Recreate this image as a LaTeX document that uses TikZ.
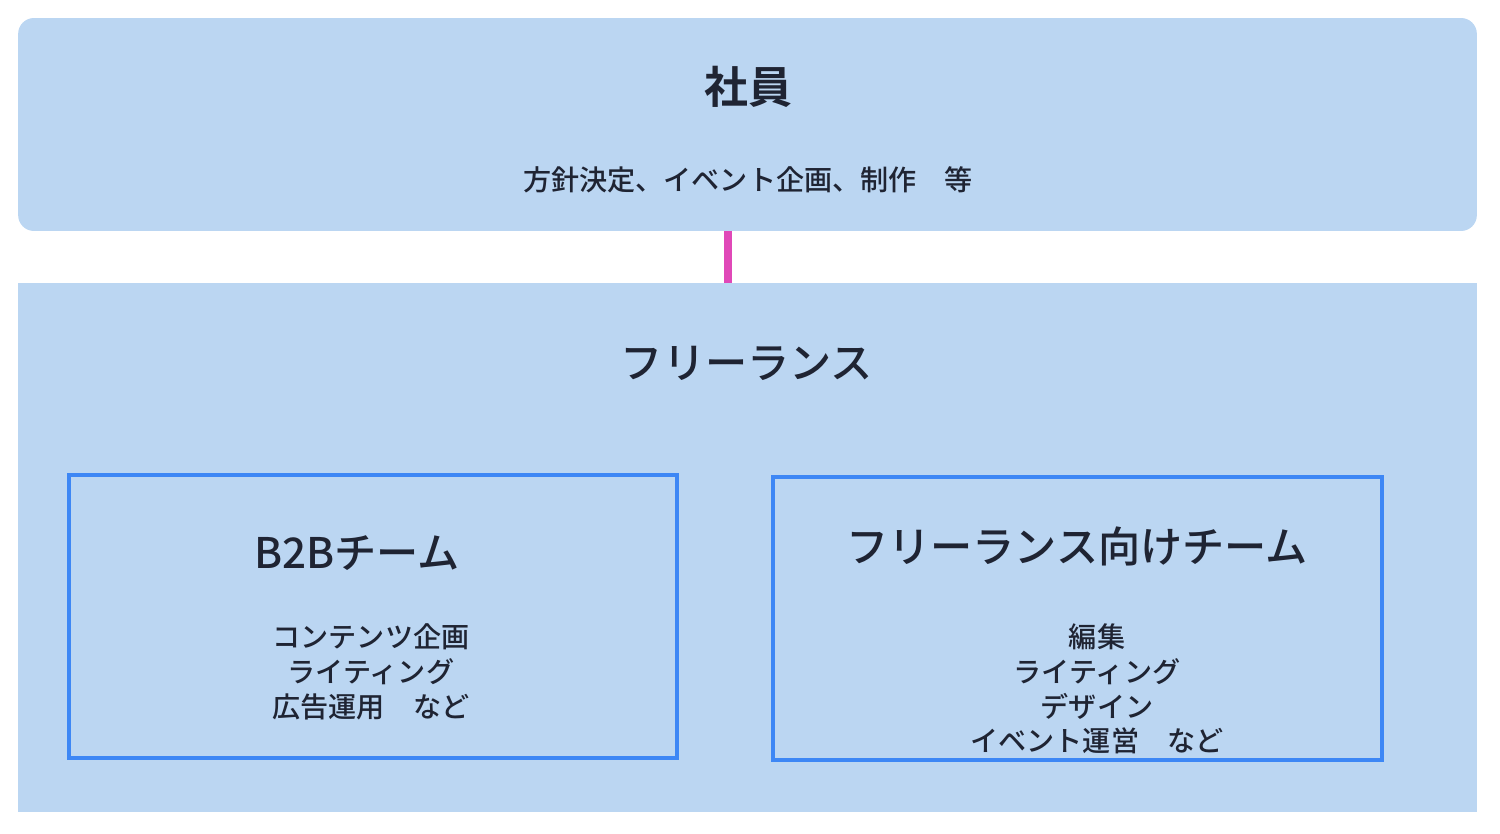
\documentclass[tikz,border=0pt]{standalone}
\usepackage{fontspec}
\newfontfamily\cjk{Noto Sans CJK JP}[UprightFont=* Medium,BoldFont=* Bold]
\definecolor{paneblue}{HTML}{BBD6F2}
\definecolor{teamblue}{HTML}{3D87F5}
\definecolor{inktext}{HTML}{1F2433}
\definecolor{linkpink}{HTML}{E048B8}
\tikzset{
  pane/.style={fill=paneblue,draw=none,inner sep=0pt,minimum width=29.18cm},
  team/.style={draw=teamblue,line width=2.3pt,inner sep=0pt,minimum width=12.18cm,minimum height=5.68cm},
  head/.style={text=inktext,font=\cjk\fontsize{24}{28}\selectfont},
  body/.style={text=inktext,align=center,font=\cjk\fontsize{16}{19.8}\selectfont},
  link/.style={draw=linkpink,line width=4.5pt}
}
\begin{document}
\begin{tikzpicture}[x=0.02cm,y=-0.02cm]
\useasboundingbox (0,0) rectangle (1500,834);
\node[pane,rounded corners=9pt,minimum height=4.26cm] (staff) at (747.5,124.5) {};
\node[pane,minimum height=10.58cm] (free) at (747.5,547.5) {};
\draw[link] (728,0 |- staff.south) -- (728,0 |- free.north);
\node[head,font=\cjk\bfseries\fontsize{25}{30}\selectfont] (staffname) at (748,87) {社員};
\node[body] (staffjob) at (748,180) {方針決定、イベント企画、制作　等};
\node[head] (freename) at (747,363) {フリーランス};
\node[team] (btob) at (373,616.5) {};
\node[team] (forfree) at (1077.5,618.5) {};
\node[head] (btobname) at (357,553) {B2Bチーム};
\node[head] (forfreename) at (1077,546) {フリーランス向けチーム};
\node[body] (btobjob) at (371,672) {コンテンツ企画\\ライティング\\広告運用　など};
\node[body] (forfreejob) at (1097,689) {編集\\ライティング\\デザイン\\イベント運営　など};
\end{tikzpicture}
\end{document}
